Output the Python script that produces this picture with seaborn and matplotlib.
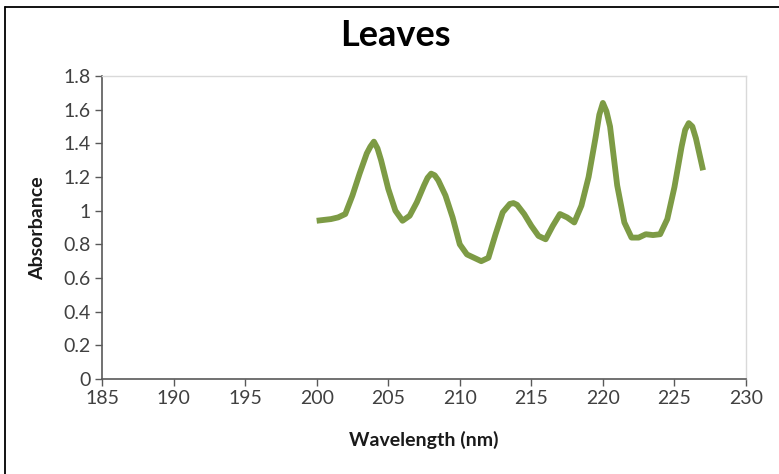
import matplotlib
matplotlib.use("Agg")
import matplotlib.pyplot as plt
import seaborn as sns
import pandas as pd
from matplotlib.lines import Line2D

wavelength = [200.0, 200.5, 201.0, 201.5, 202.0, 202.5, 203.0, 203.5, 203.75, 204.0,
              204.25, 204.5, 205.0, 205.5, 206.0, 206.5, 207.0, 207.5, 207.75, 208.0,
              208.25, 208.5, 209.0, 209.5, 210.0, 210.5, 211.0, 211.5, 212.0, 212.5,
              213.0, 213.5, 213.75, 214.0, 214.5, 215.0, 215.5, 216.0, 216.5, 217.0,
              217.5, 218.0, 218.5, 219.0, 219.5, 219.75, 220.0, 220.25, 220.5, 221.0,
              221.5, 222.0, 222.5, 223.0, 223.5, 224.0, 224.5, 225.0, 225.5, 225.75,
              226.0, 226.25, 226.5, 227.0]
absorbance = [0.94, 0.945, 0.95, 0.96, 0.98, 1.09, 1.22, 1.34, 1.38, 1.41,
              1.37, 1.30, 1.13, 1.00, 0.94, 0.97, 1.05, 1.15, 1.195, 1.22,
              1.21, 1.18, 1.09, 0.96, 0.80, 0.74, 0.72, 0.70, 0.72, 0.86,
              0.99, 1.04, 1.045, 1.035, 0.98, 0.91, 0.85, 0.83, 0.91, 0.98,
              0.96, 0.93, 1.03, 1.20, 1.44, 1.57, 1.64, 1.59, 1.50, 1.15,
              0.93, 0.84, 0.84, 0.86, 0.855, 0.86, 0.95, 1.14, 1.38, 1.48,
              1.52, 1.50, 1.43, 1.24]
x_ticks = [185, 190, 195, 200, 205, 210, 215, 220, 225, 230]
y_ticks = [0, 0.2, 0.4, 0.6, 0.8, 1.0, 1.2, 1.4, 1.6, 1.8]
y_ticklabels = ["0", "0.2", "0.4", "0.6", "0.8", "1", "1.2", "1.4", "1.6", "1.8"]

df = pd.DataFrame({"Wavelength (nm)": wavelength, "Absorbance": absorbance})

sns.set_theme(style="white")
plt.rcParams["font.family"] = ["Lato", "DejaVu Sans"]

fig = plt.figure(figsize=(7.79, 4.74), dpi=100)
ax = fig.add_axes([102 / 779, 95 / 474, 644 / 779, 303 / 474])

sns.lineplot(data=df, x="Wavelength (nm)", y="Absorbance", ax=ax,
             color="#7D9B45", linewidth=4.2, solid_joinstyle="round",
             solid_capstyle="butt")

ax.set_xlim(185, 230)
ax.set_ylim(0, 1.8)
ax.set_xticks(x_ticks)
ax.set_xticklabels([str(t) for t in x_ticks])
ax.set_yticks(y_ticks)
ax.set_yticklabels(y_ticklabels)

for side in ["left", "bottom"]:
    ax.spines[side].set_color("#595959")
    ax.spines[side].set_linewidth(1.2)
for side in ["top", "right"]:
    ax.spines[side].set_color("#D9D9D9")
    ax.spines[side].set_linewidth(1.0)

ax.tick_params(axis="both", which="major", direction="out", length=5, width=1.0,
               color="#595959", labelcolor="#404040", labelsize=14, pad=3,
               bottom=True, left=True)

ax.set_xlabel("Wavelength (nm)", fontsize=14, fontweight="bold", color="#1a1a1a")
ax.set_ylabel("Absorbance", fontsize=14, fontweight="bold", color="#1a1a1a")
ax.xaxis.label.set_va("center")
ax.yaxis.label.set_va("center")
ax.xaxis.set_label_coords((424 - 102) / 644, (379 - 440) / 303)
ax.yaxis.set_label_coords((38 - 102) / 644, (379 - 228) / 303)

fig.text(395 / 779, 1 - 35 / 474, "Leaves", ha="center", va="center",
         fontsize=26, fontweight="bold", color="black")

# outer chart frame
fig.add_artist(Line2D([5 / 779, 5 / 779], [0, 1 - 6.5 / 474], transform=fig.transFigure,
                      color="black", linewidth=1.3))
fig.add_artist(Line2D([5 / 779, 1], [1 - 6.5 / 474, 1 - 6.5 / 474], transform=fig.transFigure,
                      color="black", linewidth=1.3))

fig.savefig("out.png", dpi=100)
